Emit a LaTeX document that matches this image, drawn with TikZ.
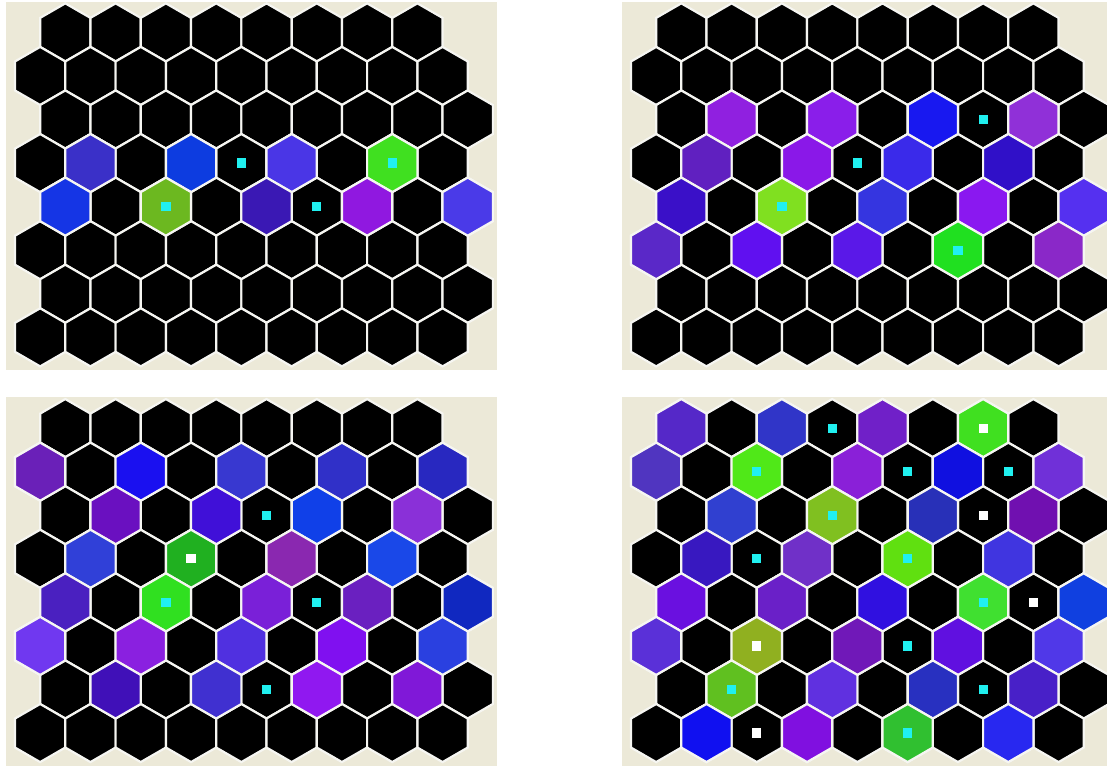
\documentclass[tikz,border=0pt]{standalone}
\usetikzlibrary{calc}
\definecolor{beige}{HTML}{ECE9D8}
\definecolor{hexline}{HTML}{F6F6F2}
\definecolor{dotcyan}{HTML}{20F0F0}
\definecolor{dotwhite}{HTML}{FFFFFF}
\newcommand{\hexc}[3]{%
  \pgfmathsetmacro\hcx{65.3+#2*50.3-mod(#1,2)*25.15}%
  \pgfmathsetmacro\hcy{32.4+#1*43.56}%
  \definecolor{hfill}{HTML}{#3}%
  \filldraw[hexstyle, fill=hfill] (\hcx,\hcy) +(90:29.04) -- +(150:29.04) -- +(210:29.04) -- +(270:29.04) -- +(330:29.04) -- +(30:29.04) -- cycle;%
}
\newcommand{\hdot}[3]{%
  \pgfmathsetmacro\hcx{65.3+#2*50.3-mod(#1,2)*25.15}%
  \pgfmathsetmacro\hcy{32.4+#1*43.56}%
  \fill[#3] (\hcx-4.6,\hcy-4.6) rectangle (\hcx+4.6,\hcy+4.6);%
}
\newcommand{\panelbase}{%
  \foreach \r in {0,...,7}{%
    \ifnum\r=0 \def\cmax{7}\else\def\cmax{8}\fi
    \foreach \c in {0,...,\cmax}{\hexc{\r}{\c}{000000}}%
  }%
}
\begin{document}
\begin{tikzpicture}[x=1pt,y=-1pt,
  hexstyle/.style={draw=hexline, line width=2.2pt, line join=miter}]
\useasboundingbox (0,0) rectangle (1107,766);
\fill[white] (0,0) rectangle (1107,766);
\fill[beige] (6,2) rectangle (497,370);
\fill[beige] (622,2) rectangle (1107,370);
\fill[beige] (6,397) rectangle (497,766);
\fill[beige] (622,397) rectangle (1107,766);

% Panel 1
\begin{scope}
\panelbase
\hexc{3}{1}{3A30C8}
\hexc{3}{3}{0D3CE0}
\hdot{3}{4}{dotcyan}
\hexc{3}{5}{4A36E6}
\hexc{3}{7}{40E020}\hdot{3}{7}{dotcyan}
\hexc{4}{0}{1535E5}
\hexc{4}{2}{6CB820}\hdot{4}{2}{dotcyan}
\hexc{4}{4}{3A18B4}
\hdot{4}{5}{dotcyan}
\hexc{4}{6}{9018E0}
\hexc{4}{8}{4A3AE8}
\end{scope}

% Panel 2
\begin{scope}[shift={(616,0)}]
\panelbase
\hexc{2}{1}{9020E0}
\hexc{2}{3}{8A1EEA}
\hexc{2}{5}{1818F0}
\hdot{2}{6}{dotcyan}
\hexc{2}{7}{9030D8}
\hexc{3}{1}{6020C0}
\hexc{3}{3}{8A18E8}
\hdot{3}{4}{dotcyan}
\hexc{3}{5}{3A2AEA}
\hexc{3}{7}{3010C8}
\hexc{4}{0}{3A10C8}
\hexc{4}{2}{80E020}\hdot{4}{2}{dotcyan}
\hexc{4}{4}{3535E0}
\hexc{4}{6}{8A18F0}
\hexc{4}{8}{5530F0}
\hexc{5}{0}{5A28C8}
\hexc{5}{2}{6010F0}
\hexc{5}{4}{5A18E8}
\hexc{5}{6}{20E020}\hdot{5}{6}{dotcyan}
\hexc{5}{8}{8A28C8}
\end{scope}

% Panel 3
\begin{scope}[shift={(0,395.7)}]
\panelbase
\hexc{1}{0}{6A20B8}
\hexc{1}{2}{1A10F0}
\hexc{1}{4}{3838D0}
\hexc{1}{6}{3030C8}
\hexc{1}{8}{2828C0}
\hexc{2}{1}{6A10C0}
\hexc{2}{3}{4010D8}
\hdot{2}{4}{dotcyan}
\hexc{2}{5}{1040E8}
\hexc{2}{7}{8A30D8}
\hexc{3}{1}{3040D8}
\hexc{3}{3}{20B020}\hdot{3}{3}{dotwhite}
\hexc{3}{5}{8A28B0}
\hexc{3}{7}{1A48E8}
\hexc{4}{0}{4A20C0}
\hexc{4}{2}{30E020}\hdot{4}{2}{dotcyan}
\hexc{4}{4}{7A20D8}
\hdot{4}{5}{dotcyan}
\hexc{4}{6}{6A20C0}
\hexc{4}{8}{1028C0}
\hexc{5}{0}{7038F0}
\hexc{5}{2}{8A20E0}
\hexc{5}{4}{5030E0}
\hexc{5}{6}{8010F0}
\hexc{5}{8}{2A40E0}
\hexc{6}{1}{4010B8}
\hexc{6}{3}{4030D0}
\hdot{6}{4}{dotcyan}
\hexc{6}{5}{9018F0}
\hexc{6}{7}{8018D8}
\end{scope}

% Panel 4
\begin{scope}[shift={(616,395.7)}]
\panelbase
\hexc{0}{0}{5528C8}
\hexc{0}{2}{3035C8}
\hdot{0}{3}{dotcyan}
\hexc{0}{4}{7020C8}
\hexc{0}{6}{40E020}\hdot{0}{6}{dotwhite}
\hexc{1}{0}{5035C0}
\hexc{1}{2}{50E818}\hdot{1}{2}{dotcyan}
\hexc{1}{4}{8A20D8}
\hdot{1}{5}{dotcyan}
\hexc{1}{6}{1010E0}
\hdot{1}{7}{dotcyan}
\hexc{1}{8}{7030D8}
\hexc{2}{1}{3040D0}
\hexc{2}{3}{80C020}\hdot{2}{3}{dotcyan}
\hexc{2}{5}{2830B8}
\hdot{2}{6}{dotwhite}
\hexc{2}{7}{7010B0}
\hexc{3}{1}{3818C0}
\hdot{3}{2}{dotcyan}
\hexc{3}{3}{7030C8}
\hexc{3}{5}{60E010}\hdot{3}{5}{dotcyan}
\hexc{3}{7}{4035E0}
\hexc{4}{0}{6A10E0}
\hexc{4}{2}{6A20C8}
\hexc{4}{4}{3010E0}
\hexc{4}{6}{40E030}\hdot{4}{6}{dotcyan}
\hdot{4}{7}{dotwhite}
\hexc{4}{8}{1040E0}
\hexc{5}{0}{5A30D8}
\hexc{5}{2}{90B020}\hdot{5}{2}{dotwhite}
\hexc{5}{4}{7018B8}
\hdot{5}{5}{dotcyan}
\hexc{5}{6}{6010E0}
\hexc{5}{8}{5038E8}
\hexc{6}{1}{60C020}\hdot{6}{1}{dotcyan}
\hexc{6}{3}{6030E0}
\hexc{6}{5}{2830C0}
\hdot{6}{6}{dotcyan}
\hexc{6}{7}{4820C8}
\hexc{7}{1}{1010F0}
\hdot{7}{2}{dotwhite}
\hexc{7}{3}{8010E0}
\hexc{7}{5}{30C030}\hdot{7}{5}{dotcyan}
\hexc{7}{7}{2828F0}
\end{scope}
\end{tikzpicture}
\end{document}
